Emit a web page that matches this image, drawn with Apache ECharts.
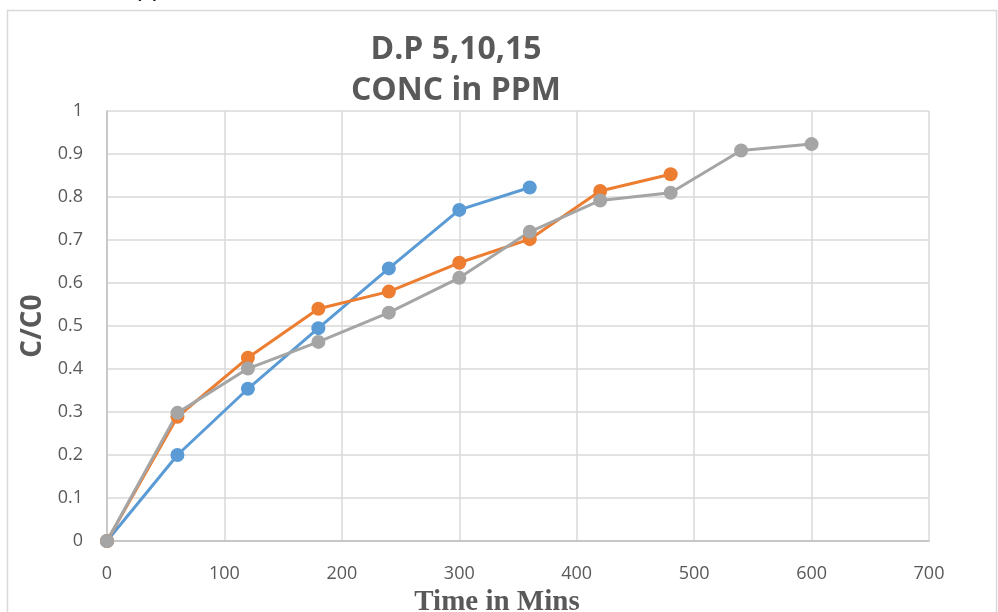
<!DOCTYPE html>
<html>
<head>
<meta charset="utf-8">
<script src="https://cdn.jsdelivr.net/npm/echarts@6/dist/echarts.min.js"></script>
<style>
  html, body { margin: 0; padding: 0; background: #fff; }
  #main { width: 998px; height: 612px; }
</style>
</head>
<body>
<div id="main"></div>
<script>
// values
let timeBlue = [0, 60, 120, 180, 240, 300, 360];
let blueVals = [0, 0.200, 0.354, 0.495, 0.634, 0.770, 0.822];

let timeOrange = [0, 60, 120, 180, 240, 300, 360, 420, 480];
let orangeVals = [0, 0.289, 0.426, 0.540, 0.580, 0.647, 0.702, 0.814, 0.853];

let timeGray = [0, 60, 120, 180, 240, 300, 360, 420, 480, 540, 600];
let grayVals = [0, 0.298, 0.401, 0.463, 0.531, 0.612, 0.719, 0.792, 0.810, 0.908, 0.923];

let titleLines = ['D.P 5,10,15', 'CONC in PPM'];

function pairs(xs, ys) {
    let out = [];
    for (let i = 0; i < xs.length; i++) {
        out.push([xs[i], ys[i]]);
    }
    return out;
}

function makeSeries(name, xs, ys, color) {
    return {
        name: name,
        type: 'line',
        data: pairs(xs, ys),
        symbol: 'circle',
        symbolSize: 14,
        lineStyle: { color: color, width: 3 },
        itemStyle: { color: color },
        z: 3
    };
}

let labelFont = 'Open Sans, Liberation Sans, sans-serif';

let options = {
    animation: false,
    backgroundColor: '#fff',
    title: {
        text: titleLines.join('\n'),
        left: 451,
        top: 24,
        textAlign: 'center',
        textStyle: {
            fontFamily: 'Open Sans, sans-serif',
            fontWeight: 'bold',
            fontSize: 32,
            lineHeight: 41,
            color: '#595959'
        }
    },
    graphic: [
        {
            // frame of the embedded chart
            type: 'rect',
            shape: { x: 7.5, y: 10.5, width: 989, height: 610 },
            style: { fill: 'none', stroke: '#d9d9d9', lineWidth: 1.5 },
            silent: true
        },
        {
            // clipped text line of the page above the chart
            type: 'text',
            left: 137,
            top: -24,
            style: { text: 'pp', font: '26px Liberation Sans', fill: '#222' },
            silent: true
        },
        {
            type: 'text',
            left: 810,
            top: -24,
            style: { text: ',', font: '26px Liberation Sans', fill: '#222' },
            silent: true
        }
    ],
    grid: {
        left: 107, right: 69, top: 111, bottom: 71,
        containLabel: false,
        outerBoundsMode: 'none'
    },
    xAxis: {
        type: 'value',
        min: 0,
        max: 700,
        interval: 100,
        name: 'Time in Mins',
        nameLocation: 'middle',
        nameGap: 32,
        nameTextStyle: {
            fontFamily: 'Liberation Serif, serif',
            fontWeight: 'bold',
            fontSize: 29,
            color: '#595959',
            padding: [0, 42, 0, 0]
        },
        axisLine: { lineStyle: { color: '#bfbfbf', width: 1.5 } },
        axisTick: { show: false },
        axisLabel: {
            fontFamily: labelFont,
            fontSize: 18,
            color: '#595959',
            margin: 24
        },
        splitLine: { show: true, lineStyle: { color: '#d9d9d9', width: 1.5 } }
    },
    yAxis: {
        type: 'value',
        min: 0,
        max: 1,
        interval: 0.1,
        name: 'C/C0',
        nameLocation: 'middle',
        nameGap: 49,
        nameTextStyle: {
            fontFamily: 'Open Sans, sans-serif',
            fontWeight: 'bold',
            fontSize: 28,
            color: '#595959'
        },
        axisLine: { show: true, lineStyle: { color: '#bfbfbf', width: 1.5 } },
        axisTick: { show: false },
        axisLabel: {
            fontFamily: labelFont,
            fontSize: 18,
            color: '#595959',
            margin: 24,
            formatter: function (v) { return String(Math.round(v * 10) / 10); }
        },
        splitLine: { show: true, lineStyle: { color: '#d9d9d9', width: 1.5 } }
    },
    series: [
        makeSeries('D.P 5', timeBlue, blueVals, '#5b9bd5'),
        makeSeries('D.P 10', timeOrange, orangeVals, '#ed7d31'),
        makeSeries('D.P 15', timeGray, grayVals, '#a5a5a5')
    ]
};

let myChart = echarts.init(document.getElementById('main'));
myChart.setOption(options);
</script>
</body>
</html>
